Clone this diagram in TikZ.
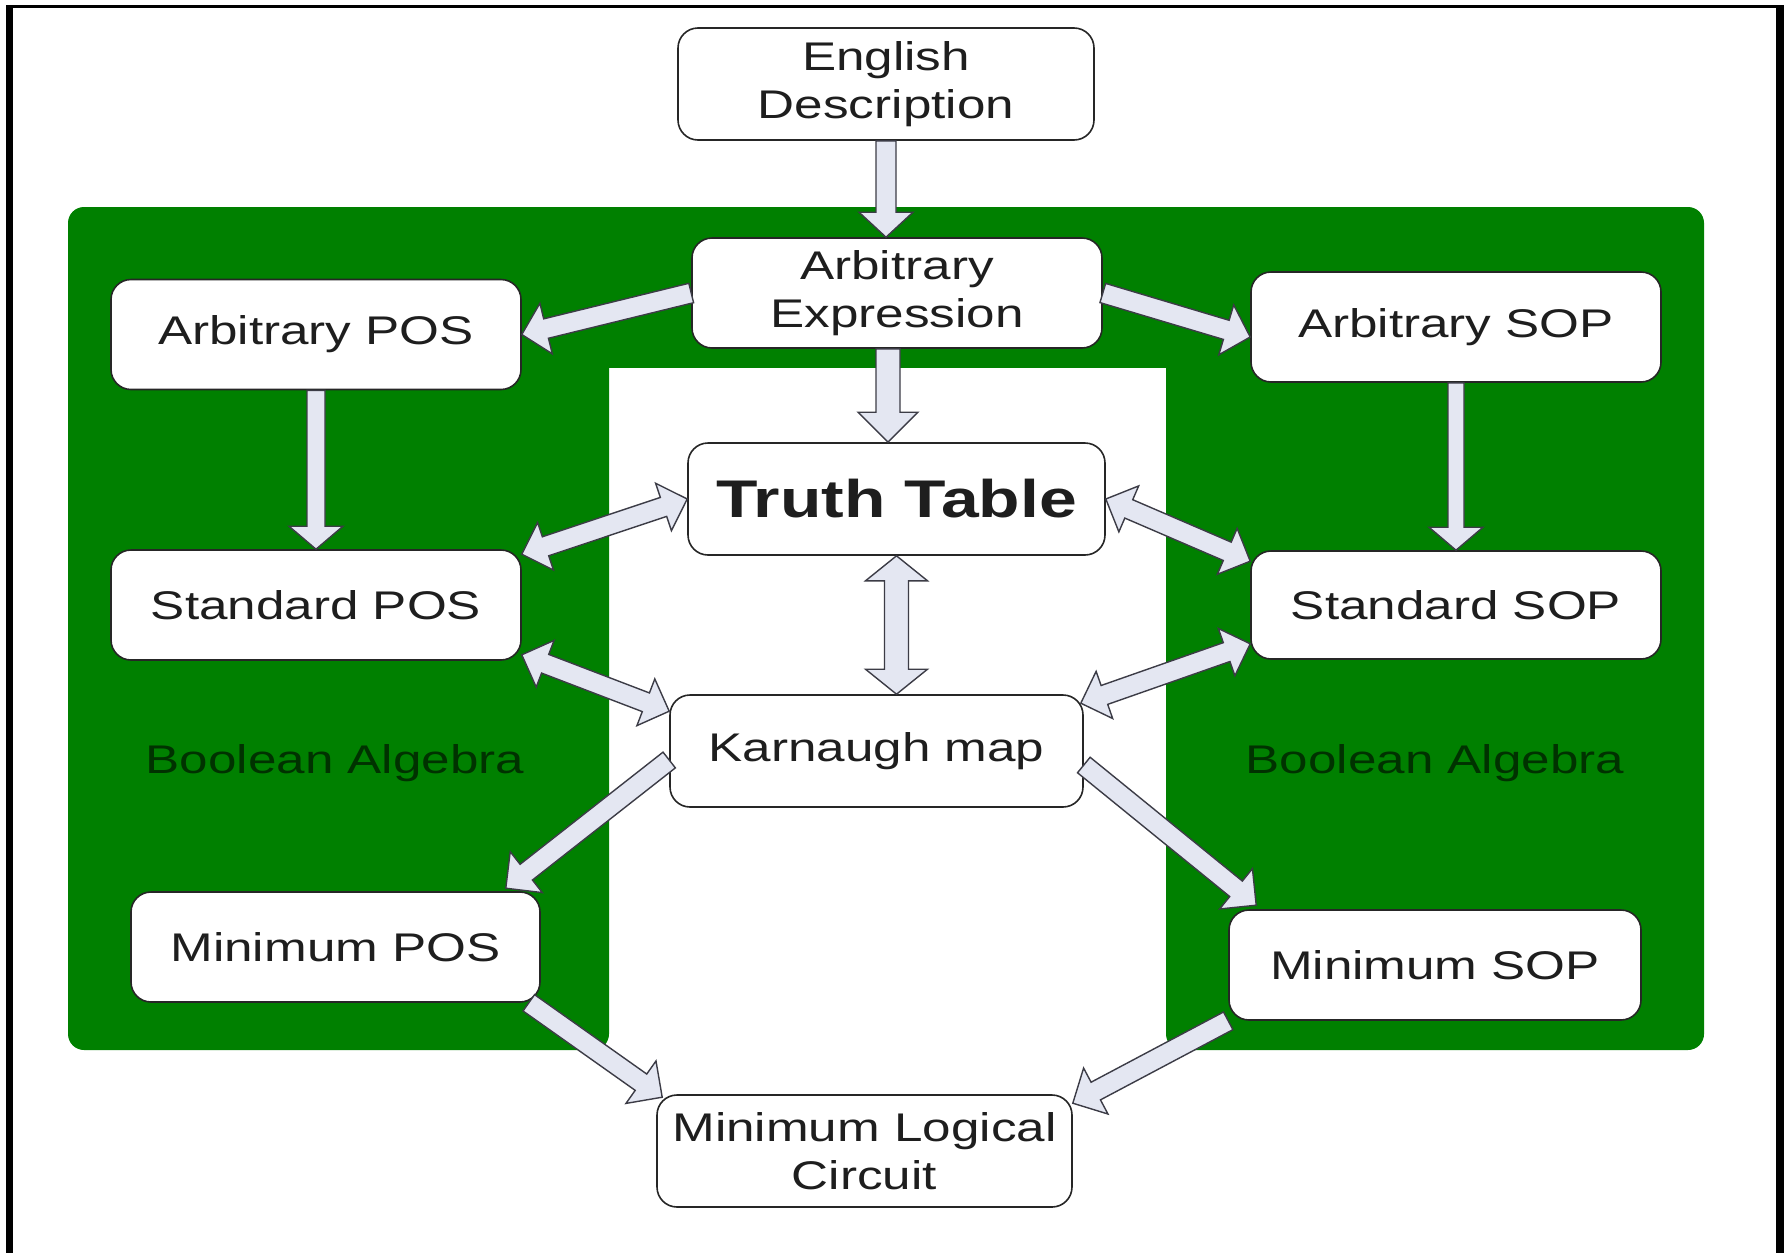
\documentclass[tikz,border=0pt]{standalone}
\usepackage{fontspec}
\setmainfont{Liberation Sans}[FakeStretch=1.28]
\usetikzlibrary{calc}

\definecolor{panelgreen}{RGB}{0,128,0}
\definecolor{labelgreen}{RGB}{0,50,0}
\definecolor{arrowfill}{RGB}{228,231,242}
\definecolor{arrowline}{RGB}{60,60,70}
\definecolor{boxtext}{RGB}{30,30,30}

\tikzset{
  box/.style={draw=black!85, line width=1.6pt, fill=white, rounded corners=20pt,
    text=boxtext, font=\fontsize{40}{48}\selectfont, align=center, inner sep=0pt,
    minimum width=410pt, minimum height=110pt},
  sidelabel/.style={text=labelgreen, font=\fontsize{40}{48}\selectfont, inner sep=0pt, anchor=base},
  blockarrow/.style={fill=arrowfill, draw=arrowline, line width=1.4pt, line join=miter},
}

% block arrow with one head: [style]{tail}{tip}{half shaft}{half head}{head length}
\newcommand{\onearrow}[6][]{%
  \path ($(#3)!#6!(#2)$) coordinate (hb);
  \filldraw[blockarrow,#1]
    ($(#2)!#4!90:(#3)$) -- ($(hb)!#4!90:(#3)$) -- ($(hb)!#5!90:(#3)$) -- (#3)
    -- ($(hb)!#5!-90:(#3)$) -- ($(hb)!#4!-90:(#3)$) -- ($(#2)!#4!-90:(#3)$) -- cycle;
}
% block arrow with a head at each end
\newcommand{\twoarrow}[6][]{%
  \path ($(#3)!#6!(#2)$) coordinate (hb) ($(#2)!#6!(#3)$) coordinate (ha);
  \filldraw[blockarrow,#1]
    (#2) -- ($(ha)!#5!90:(#3)$) -- ($(ha)!#4!90:(#3)$) -- ($(hb)!#4!90:(#3)$)
    -- ($(hb)!#5!90:(#3)$) -- (#3) -- ($(hb)!#5!-90:(#3)$) -- ($(hb)!#4!-90:(#3)$)
    -- ($(ha)!#4!-90:(#3)$) -- ($(ha)!#5!-90:(#3)$) -- cycle;
}

\begin{document}
\begin{tikzpicture}[x=1pt, y=-1pt]
\useasboundingbox (0,0) rectangle (1784,1253);
\fill[white] (0,0) rectangle (1784,1253);

% frame
\fill[black] (6,5) rectangle (13,1253);
\fill[black] (1776,5) rectangle (1784,1253);
\fill[black] (6,5) rectangle (1784,7.5);

% green panel, open in the middle
\fill[panelgreen, rounded corners=16pt] (68,207) rectangle (609,1050);
\fill[panelgreen, rounded corners=16pt] (1166,207) rectangle (1704,1050);
\fill[panelgreen] (590,207) rectangle (1185,368);

\node[sidelabel] (balg1) at (335,773) {Boolean Algebra};
\node[sidelabel] (balg2) at (1435,773) {Boolean Algebra};

% boxes
\node[box, minimum width=416pt, minimum height=112pt] (eng) at (886,84) {English\\Description};
\node[box] (aexpr) at (897,293) {Arbitrary\\Expression};
\node[box] (apos) at (316,334.5) {Arbitrary POS};
\node[box] (asop) at (1456,327) {Arbitrary SOP};
\node[box, minimum width=417pt, minimum height=112pt, font=\fontsize{53}{60}\bfseries\selectfont] (tt) at (896.5,499) {Truth Table};
\node[box] (spos) at (316,605) {Standard POS};
\node[box, minimum height=108pt] (ssop) at (1456,605) {Standard SOP};
\node[box, minimum width=413pt, minimum height=112pt] (km) at (876.5,751) {Karnaugh map};
\node[box, minimum width=409pt] (mpos) at (335.5,947) {Minimum POS};
\node[box, minimum width=412pt] (msop) at (1435,965) {Minimum SOP};
\node[box, minimum width=415pt, minimum height=112pt] (mlc) at (864.5,1151) {Minimum Logical\\Circuit};

% arrow end points
\coordinate (a1s) at (eng.south);
\coordinate (a1e) at (eng.south |- aexpr.north);
\coordinate (a2s) at (aexpr.west);
\coordinate (a2e) at (apos.east);
\coordinate (a3s) at (aexpr.east);
\coordinate (a3e) at ($(asop.west)+(0,10)$);
\coordinate (a4s) at ($(aexpr.south)+(-9,0)$);
\coordinate (a4e) at (a4s |- tt.north);
\coordinate (a5s) at (apos.south);
\coordinate (a5e) at (spos.north);
\coordinate (a6s) at (asop.south);
\coordinate (a6e) at (ssop.north);
\coordinate (a7s) at (tt.west);
\coordinate (a7e) at ($(spos.north east)+(0,5)$);
\coordinate (a8s) at (tt.east);
\coordinate (a8e) at ($(ssop.north west)+(0,11)$);
\coordinate (a9s) at (tt.south);
\coordinate (a9e) at (tt.south |- km.north);
\coordinate (a10s) at ($(spos.south east)+(0,-6)$);
\coordinate (a10e) at ($(km.north west)+(0,17)$);
\coordinate (a11s) at ($(ssop.south west)+(0,-16)$);
\coordinate (a11e) at ($(km.north east)+(-3,9)$);
\coordinate (a12s) at ($(km.west)+(0,9)$);
\coordinate (a12e) at ($(mpos.north east)+(-35,-3)$);
\coordinate (a13s) at ($(km.east)+(0,14)$);
\coordinate (a13e) at ($(msop.north west)+(28,-4)$);
\coordinate (a14s) at ($(mpos.south east)+(-12,0)$);
\coordinate (a14e) at ($(mlc.north west)+(6,3)$);
\coordinate (a15s) at (msop.south west);
\coordinate (a15e) at ($(mlc.north east)+(0,9)$);

% arrows
\onearrow{a1s}{a1e}{10pt}{27pt}{25pt}
\onearrow{a2s}{a2e}{10pt}{26pt}{25pt}
\onearrow{a3s}{a3e}{10pt}{26pt}{25pt}
\onearrow{a4s}{a4e}{12pt}{30pt}{30pt}
\onearrow{a5s}{a5e}{9pt}{27pt}{23pt}
\onearrow{a6s}{a6e}{8pt}{27pt}{23pt}
\twoarrow{a7s}{a7e}{10pt}{25pt}{25pt}
\twoarrow{a8s}{a8e}{10pt}{25pt}{25pt}
\twoarrow{a9s}{a9e}{12pt}{31pt}{25pt}
\twoarrow{a10s}{a10e}{10pt}{25pt}{25pt}
\twoarrow{a11s}{a11e}{10pt}{25pt}{25pt}
\onearrow{a12s}{a12e}{10pt}{26pt}{26pt}
\onearrow{a13s}{a13e}{10pt}{26pt}{26pt}
\onearrow{a14s}{a14e}{10pt}{26pt}{26pt}
\onearrow{a15s}{a15e}{10pt}{26pt}{26pt}
\end{tikzpicture}
\end{document}
